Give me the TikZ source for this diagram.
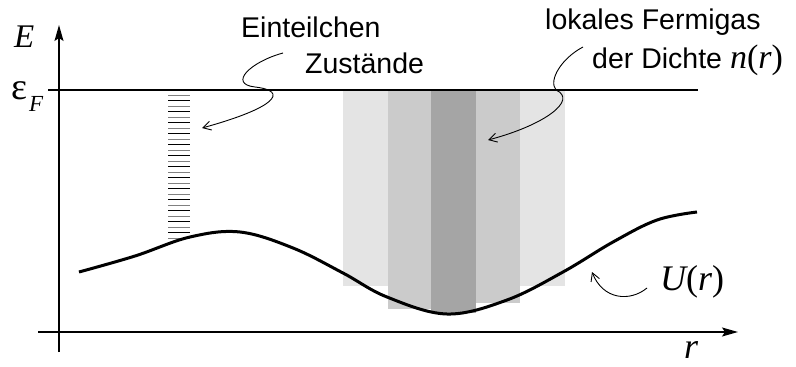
\documentclass[tikz,border=0pt]{standalone}
\usepackage{fontspec}
\setmainfont{Liberation Sans}
\newfontfamily\tms{Liberation Serif}
\usetikzlibrary{arrows.meta}
\definecolor{lightbar}{HTML}{E4E4E4}
\definecolor{midbar}{HTML}{CBCBCB}
\definecolor{darkbar}{HTML}{A5A5A5}
\definecolor{hatchgray}{HTML}{808080}
\begin{document}
\begin{tikzpicture}[x=1pt,y=-1pt,
  lbl/.style={inner sep=0pt,anchor=base west,font=\fontsize{28.5}{30}\selectfont},
  mth/.style={inner sep=0pt,anchor=base west,font=\fontsize{36}{38}\selectfont\tms\itshape},
  axis/.style={line width=1.5pt,-{Stealth[length=16pt,width=9pt,inset=3pt]}},
  conn/.style={line width=0.9pt,-{Straight Barb[length=8pt,width=9pt]}},
  hatchline/.style={line width=1pt},
  ucurve/.style={line width=3pt,line join=round},
  fermi/.style={line width=2pt}]
\useasboundingbox (0,0) rectangle (796,367);

% local Fermi gas bars
\fill[lightbar] (343,90) rectangle (565,286);
\fill[midbar] (388,90) rectangle (431,309);
\fill[midbar] (476,90) rectangle (520,303);
\fill[darkbar] (431,90) rectangle (476,313);

% single-particle levels
\foreach \i in {0,2,...,26} {\draw[hatchline,hatchgray] (168,95.3+5.5*\i) -- (190,95.3+5.5*\i);}
\foreach \i in {1,3,...,25} {\draw[hatchline,black] (168,95.3+5.5*\i) -- (190,95.3+5.5*\i);}

% axes
\coordinate (yb) at (59,352);
\coordinate (yt) at (59,25);
\coordinate (xl) at (38,332);
\coordinate (xr) at (738,332);
\draw[axis] (yb) -- (yt);
\draw[axis] (xl) -- (xr);

% Fermi level
\coordinate (fl) at (48,90);
\coordinate (fr) at (698,90);
\draw[fermi] (fl) -- (fr);

% potential
\draw[ucurve] plot[smooth,tension=0.6] coordinates {(79,272) (135,256) (190,237) (240,232) (293,248) (343,273) (387,297) (447,314) (507,300) (563,272) (613,242) (657,220) (697,212)};

% labels
\node[mth,font=\fontsize{33}{35}\selectfont\tms\itshape] (E) at (14,47) {E};
\node[inner sep=0pt,anchor=base west,font=\fontsize{38}{40}\selectfont\tms] (eps) at (11,99) {ε};
\node[inner sep=0pt,anchor=base west,font=\fontsize{23}{25}\selectfont\tms\itshape] (epsF) at (29,111) {F};
\node[lbl] (ein) at (241,37) {Einteilchen};
\node[lbl] (zus) at (305,73) {Zustände};
\node[lbl] (lok) at (545,29) {lokales Fermigas};
\node[lbl] (dic) at (592,68) {der Dichte {\tms\fontsize{34}{36}\selectfont\itshape n\upshape(\itshape r\upshape)}};
\node[mth] (U) at (660,290) {U\upshape(\itshape r\upshape)};
\node[mth] (r) at (684,358) {r};

% connectors
\coordinate (ea) at (283,53);
\coordinate (eb) at (202,128);
\draw[conn] (ea) .. controls (250,62) and (228,84) .. (255,87) .. controls (290,91) and (275,108) .. (eb);
\coordinate (la) at (583,47);
\coordinate (lb) at (488,140);
\draw[conn] (la) .. controls (562,58) and (548,80) .. (556,90) .. controls (578,100) and (545,125) .. (lb);
\coordinate (ua) at (647,288);
\coordinate (ub) at (592,272);
\draw[conn] (ua) .. controls (630,302) and (603,300) .. (ub);
\end{tikzpicture}
\end{document}
